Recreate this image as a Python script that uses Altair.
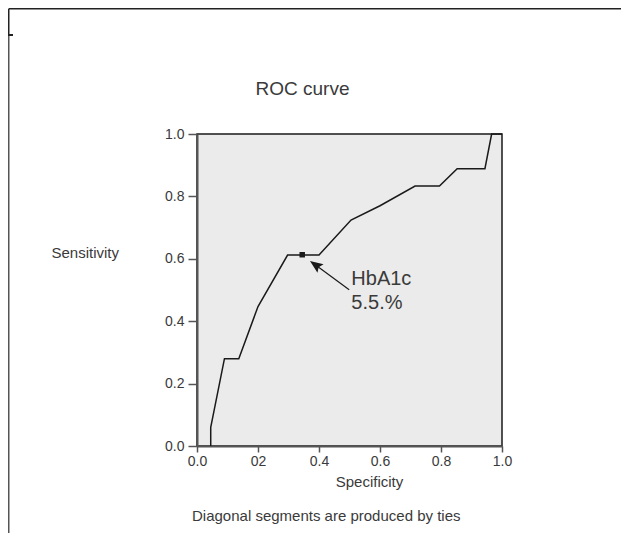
import json
import altair as alt
import pandas as pd

# ---- data ----
specificity = [0.045, 0.045, 0.09, 0.137, 0.20, 0.297, 0.40, 0.505, 0.60, 0.715, 0.795, 0.853, 0.944, 0.966, 1.0]
sensitivity = [0.0, 0.06, 0.28, 0.28, 0.447, 0.612, 0.612, 0.724, 0.77, 0.833, 0.833, 0.889, 0.889, 1.0, 1.0]

cutoff_spec = [0.345]
cutoff_sens = [0.613]

annotation_lines = ["HbA1c", "5.5.%"]
annotation_spec = [0.506, 0.506]
annotation_sens = [0.515, 0.438]

arrow_tail_spec = [0.499]
arrow_tail_sens = [0.501]
arrow_head_spec = [0.3877]
arrow_head_sens = [0.581]

tick_values = [0.0, 0.2, 0.4, 0.6, 0.8, 1.0]
x_tick_labels = ["0.0", "02", "0.4", "0.6", "0.8", "1.0"]
y_tick_labels = ["0.0", "0.2", "0.4", "0.6", "0.8", "1.0"]

title_text = ["ROC curve"]
footer_text = ["Diagonal segments are produced by ties"]

FONT = "Liberation Sans"
TXT = "#3a3a3a"
INK = "#1a1a1a"
AX = "#555555"

curve_df = pd.DataFrame({"spec": specificity, "sens": sensitivity, "i": list(range(len(specificity)))})
cut_df = pd.DataFrame({"spec": cutoff_spec, "sens": cutoff_sens})
ann_df = pd.DataFrame({"spec": annotation_spec, "sens": annotation_sens, "t": annotation_lines})
arrow_df = pd.DataFrame({"x1": arrow_tail_spec, "y1": arrow_tail_sens, "x2": arrow_head_spec, "y2": arrow_head_sens})

xscale = alt.Scale(domain=[0, 1], nice=False, zero=False)
yscale = alt.Scale(domain=[0, 1], nice=False, zero=False)

x_axis = alt.Axis(
    values=tick_values,
    labelExpr=json.dumps(x_tick_labels) + "[round(datum.value*5)]",
    labelFlush=False, labelOverlap=False, labelBound=False,
    tickSize=6, tickWidth=1.5, tickColor=AX,
    domainColor=AX, domainWidth=2, grid=False,
    labelFont=FONT, labelFontSize=14, labelColor=TXT, labelPadding=2,
    title="Specificity", titleFont=FONT, titleFontSize=15, titleFontWeight="normal",
    titleColor=TXT, titleX=172, titleY=40, titleAlign="center", titleBaseline="alphabetic",
)
y_axis = alt.Axis(
    values=tick_values,
    labelExpr=json.dumps(y_tick_labels) + "[round(datum.value*5)]",
    labelFlush=False, labelOverlap=False, labelBound=False,
    tickSize=9, tickWidth=1.5, tickColor=AX,
    domainColor=AX, domainWidth=2, grid=False,
    labelFont=FONT, labelFontSize=14, labelColor=TXT, labelPadding=4,
    title="Sensitivity", titleFont=FONT, titleFontSize=15, titleFontWeight="normal",
    titleColor=TXT, titleAngle=0, titleX=-146, titleY=123, titleAlign="left",
    titleBaseline="alphabetic",
)

curve = alt.Chart(curve_df).mark_line(color=INK, strokeWidth=1.5).encode(
    x=alt.X("spec:Q", scale=xscale, axis=x_axis),
    y=alt.Y("sens:Q", scale=yscale, axis=y_axis),
    order="i:Q",
)

marker = alt.Chart(cut_df).mark_square(size=30, color=INK, opacity=1).encode(
    x=alt.X("spec:Q", scale=xscale), y=alt.Y("sens:Q", scale=yscale)
)

arrow_line = alt.Chart(arrow_df).mark_rule(color=INK, strokeWidth=1.2).encode(
    x=alt.X("x1:Q", scale=xscale), y=alt.Y("y1:Q", scale=yscale), x2="x2:Q", y2="y2:Q"
)

arrow_head = alt.Chart(arrow_df).mark_point(
    shape="M0,-1L0.8,1L0,0.65L-0.8,1Z", filled=True, fill=INK, strokeWidth=0,
    opacity=1, size=169, angle=306,
).encode(x=alt.X("x2:Q", scale=xscale), y=alt.Y("y2:Q", scale=yscale))

ann_text = alt.Chart(ann_df).mark_text(
    align="left", baseline="alphabetic", font=FONT, fontSize=20, color=TXT
).encode(x=alt.X("spec:Q", scale=xscale), y=alt.Y("sens:Q", scale=yscale), text="t:N")

title = alt.Chart(pd.DataFrame({"t": title_text})).mark_text(
    align="left", baseline="alphabetic", font=FONT, fontSize=19, color=TXT
).encode(x=alt.value(58.5), y=alt.value(-39), text="t:N")

footer = alt.Chart(pd.DataFrame({"t": footer_text})).mark_text(
    align="left", baseline="alphabetic", font=FONT, fontSize=15, color=TXT
).encode(x=alt.value(-5), y=alt.value(387), text="t:N")

# page frame lines (decoration)
frame_top = alt.Chart(pd.DataFrame({"a": [0]})).mark_rule(color="#222222", strokeWidth=1.5).encode(
    x=alt.value(-188.25), x2=alt.value(424), y=alt.value(-125.25)
)
frame_left_upper = alt.Chart(pd.DataFrame({"a": [0]})).mark_rule(color="#222222", strokeWidth=1.5).encode(
    x=alt.value(-188.25), y=alt.value(-125.25), y2=alt.value(-99)
)
frame_left_lower = alt.Chart(pd.DataFrame({"a": [0]})).mark_rule(color="#555555", strokeWidth=1.5).encode(
    x=alt.value(-188.25), y=alt.value(-99), y2=alt.value(399)
)
frame_dash = alt.Chart(pd.DataFrame({"a": [0]})).mark_rule(color="#222222", strokeWidth=2).encode(
    x=alt.value(-189), x2=alt.value(-184), y=alt.value(-99)
)

chart = alt.layer(
    curve, marker, arrow_line, arrow_head, ann_text, title, footer,
    frame_top, frame_left_upper, frame_left_lower, frame_dash,
).properties(
    width=305, height=312,
    autosize=alt.AutoSizeParams(type="none"),
    padding={"left": 189, "top": 126, "right": 119, "bottom": 87},
    background="white",
).configure_view(
    fill="#ebebeb", stroke=INK, strokeWidth=1.5
)

chart.save("out.html", embed_options={"renderer": "svg", "actions": False})
